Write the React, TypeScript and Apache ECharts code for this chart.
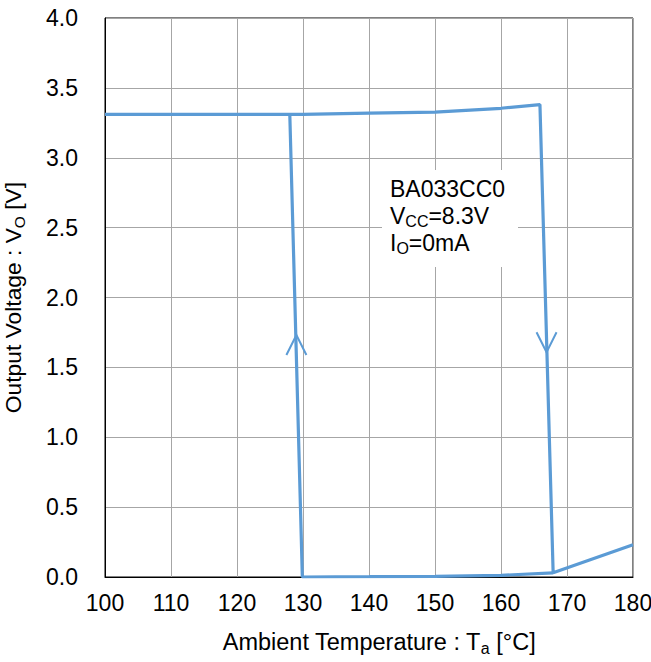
import React, { useEffect, useRef } from "react";
import * as echarts from "echarts";

// Heating sweep (temperature rising): output stays ~3.3 V, then TSD cuts off
const heatingTemp = [100, 110, 120, 130, 140, 150, 160, 165.9, 167.9, 180];
const heatingVolt = [3.31, 3.31, 3.31, 3.31, 3.32, 3.327, 3.354, 3.38, 0.03, 0.23];

// Cooling sweep (temperature falling): output stays ~0 V, then recovers
const coolingTemp = [167.9, 160, 150, 140, 129.9, 128.0];
const coolingVolt = [0.03, 0.012, 0.005, 0.002, 0.0, 3.31];

// Direction arrows on the vertical transitions
const arrowUp = [129.0, 1.66];
const arrowDown = [166.9, 1.68];

const xTicks = [100, 110, 120, 130, 140, 150, 160, 170, 180];
const yTicks = [0, 0.5, 1, 1.5, 2, 2.5, 3, 3.5, 4];

const annotationLines = ["BA033CC0", "V{sub|CC}=8.3V", "I{sub|O}=0mA"];

const BLUE = "#5b9bd5";
const FONT = "'Liberation Sans', Arial, sans-serif";

export default function App() {
  const ref = useRef<HTMLDivElement>(null);

  useEffect(() => {
    if (!ref.current) return;
    const chart = echarts.init(ref.current, null, { renderer: "svg" });
    const toPairs = (xs: number[], ys: number[]) => xs.map((x, i) => [x, ys[i]]);
    const chevron = "path://M0,20 L10,0 L20,20";

    chart.setOption({
      animation: false,
      backgroundColor: "#ffffff",
      textStyle: { fontFamily: FONT },
      grid: {
        left: 105,
        right: 18,
        top: 18,
        bottom: 85,
        containLabel: false,
        outerBoundsMode: "none",
        show: true,
        borderColor: "#000",
        borderWidth: 1,
        backgroundColor: "transparent",
      },
      xAxis: {
        type: "value",
        min: xTicks[0],
        max: xTicks[xTicks.length - 1],
        interval: 10,
        axisLine: { show: true, lineStyle: { color: "#000", width: 1 } },
        axisTick: { show: false },
        splitLine: { show: true, lineStyle: { color: "#a6a6a6", width: 1 } },
        axisLabel: { color: "#000", fontSize: 23, margin: 14, fontFamily: FONT },
        name: "Ambient Temperature : T{sub|a} [°C]",
        nameLocation: "middle",
        nameGap: 51,
        nameTextStyle: {
          color: "#000",
          fontSize: 23.5,
          fontFamily: FONT,
          padding: [0, 0, 0, 20],
          rich: {
            sub: { fontSize: 16, color: "#000", fontFamily: FONT, padding: [12, 0, 0, 0] },
          },
        },
      },
      yAxis: {
        type: "value",
        min: yTicks[0],
        max: yTicks[yTicks.length - 1],
        interval: 0.5,
        axisLine: { show: true, lineStyle: { color: "#000", width: 1 } },
        axisTick: { show: false },
        splitLine: { show: true, lineStyle: { color: "#a6a6a6", width: 1 } },
        axisLabel: {
          color: "#000",
          fontSize: 23,
          margin: 27,
          fontFamily: FONT,
          formatter: (v: number) => v.toFixed(1),
        },
        name: "Output Voltage : V{sub|O} [V]",
        nameLocation: "middle",
        nameGap: 78,
        nameTextStyle: {
          color: "#000",
          fontSize: 22.8,
          fontFamily: FONT,
          rich: {
            sub: { fontSize: 15.5, color: "#000", fontFamily: FONT, padding: [12, 0, 0, 0] },
          },
        },
      },
      series: [
        {
          type: "line",
          data: toPairs(heatingTemp, heatingVolt),
          showSymbol: false,
          symbol: "none",
          lineStyle: { color: BLUE, width: 3.2 },
          itemStyle: { color: BLUE },
          markPoint: {
            silent: true,
            symbol: chevron,
            symbolSize: [20, 20],
            symbolRotate: 180,
            label: { show: false },
            itemStyle: { color: "none", borderColor: BLUE, borderWidth: 2 },
            data: [{ coord: arrowDown }],
          },
        },
        {
          type: "line",
          data: toPairs(coolingTemp, coolingVolt),
          showSymbol: false,
          symbol: "none",
          lineStyle: { color: BLUE, width: 3.2 },
          itemStyle: { color: BLUE },
          markPoint: {
            silent: true,
            symbol: chevron,
            symbolSize: [20, 20],
            label: { show: false },
            itemStyle: { color: "none", borderColor: BLUE, borderWidth: 2 },
            data: [{ coord: arrowUp }],
          },
        },
      ],
      graphic: [
        {
          type: "rect",
          left: 382,
          top: 170,
          shape: { width: 136, height: 97 },
          style: { fill: "#ffffff" },
          z: 5,
        },
        {
          type: "text",
          left: 390,
          top: 175,
          z: 6,
          style: {
            text: annotationLines.join("\n"),
            fill: "#000",
            fontSize: 23,
            fontFamily: FONT,
            lineHeight: 27,
            rich: {
              sub: { fontSize: 16, fill: "#000", fontFamily: FONT, padding: [12, 0, 0, 0], lineHeight: 27 },
            },
          },
        },
      ],
    });

    return () => chart.dispose();
  }, []);

  return (
    <div
      ref={ref}
      style={{ position: "absolute", left: 0, top: 0, width: 651, height: 662 }}
    />
  );
}
